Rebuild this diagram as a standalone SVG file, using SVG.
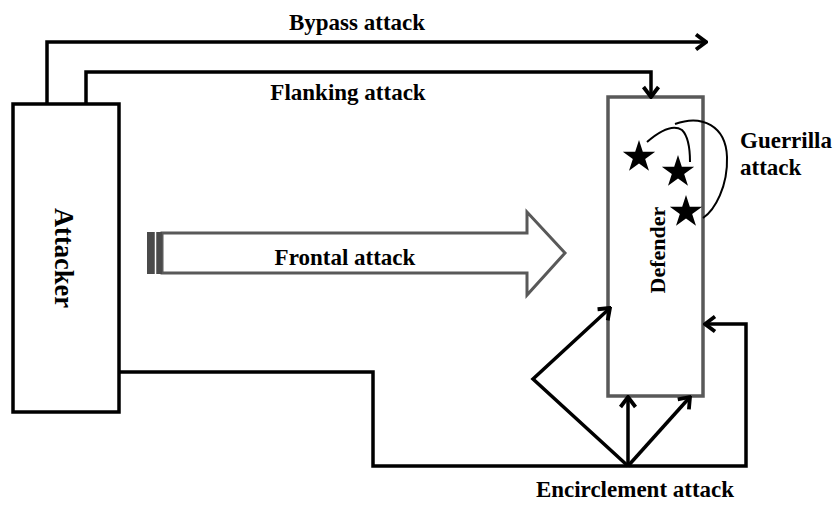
<svg xmlns="http://www.w3.org/2000/svg" width="836" height="505" viewBox="0 0 836 505">
<style>
.lbl{font-family:"Liberation Serif","Times New Roman",serif;font-weight:bold;font-size:23px;fill:#000}
.conn{fill:none;stroke:#000;stroke-width:3.5;stroke-linejoin:miter}
.thin{fill:none;stroke:#000;stroke-width:2}
</style>
<defs>
<marker id="arr" viewBox="-12 -10 14 20" refX="0" refY="0" markerWidth="14" markerHeight="20" markerUnits="userSpaceOnUse" orient="auto">
<path d="M-10,-7.5 L0,0 L-10,7.5" fill="none" stroke="#000" stroke-width="3.8"/>
</marker>
<path id="star" d="M0,-17 L3.82,-5.26 L16.17,-5.25 L6.18,2.01 L9.99,13.75 L0,6.5 L-9.99,13.75 L-6.18,2.01 L-16.17,-5.25 L-3.82,-5.26 Z" fill="#000"/>
</defs>
<rect width="836" height="505" fill="#fff"/>

<g id="defender">
<rect x="608" y="97" width="95" height="299" fill="#fff" stroke="#595959" stroke-width="3.5"/>
<text class="lbl" style="font-size:22px" transform="translate(665,250) rotate(-90)" text-anchor="middle">Defender</text>
</g>

<g id="attacker">
<rect x="13" y="104" width="106" height="308" fill="#fff" stroke="#000" stroke-width="3.5"/>
<text class="lbl" style="font-size:26.5px" transform="translate(55,258) rotate(90)" text-anchor="middle">Attacker</text>
</g>

<g id="frontal">
<polygon points="162,233 527,233 527,212 565,253 527,295 527,273 162,273" fill="#fff" stroke="#595959" stroke-width="3"/>
<rect x="147" y="232" width="15" height="42" fill="#4a4a4a"/>
<line x1="155.5" y1="232" x2="155.5" y2="274" stroke="#fff" stroke-width="1.5"/>
<text class="lbl" x="345" y="265" text-anchor="middle">Frontal attack</text>
</g>

<g id="guerrilla">
<use href="#star" x="639" y="157"/>
<use href="#star" x="678" y="172"/>
<use href="#star" x="686" y="212"/>
<path class="thin" d="M647,142 Q670,122 682,130 Q690,138 690,162"/>
<path class="thin" d="M675,124 C702,114 726,126 727,157 C728,186 715,210 703,218"/>
<text class="lbl" x="740" y="148">Guerrilla</text>
<text class="lbl" x="740" y="175">attack</text>
</g>

<g id="connectors">
<path class="conn" d="M47,104 V42 H706" marker-end="url(#arr)"/>
<path class="conn" d="M86,104 V72 H651 V97" marker-end="url(#arr)"/>
<path class="conn" d="M119,372 H373 V466 H746 V324 H705" marker-end="url(#arr)"/>
<path class="conn" d="M628,466 V397" marker-end="url(#arr)"/>
<path class="conn" d="M628,466 L690,397" marker-end="url(#arr)"/>
<path class="conn" d="M628,466 L533,379 L610,308" marker-end="url(#arr)"/>
</g>

<g id="labels">
<text class="lbl" x="357" y="30" text-anchor="middle">Bypass attack</text>
<text class="lbl" x="348" y="100" text-anchor="middle">Flanking attack</text>
<text class="lbl" x="635" y="497" text-anchor="middle">Encirclement attack</text>
</g>
</svg>
